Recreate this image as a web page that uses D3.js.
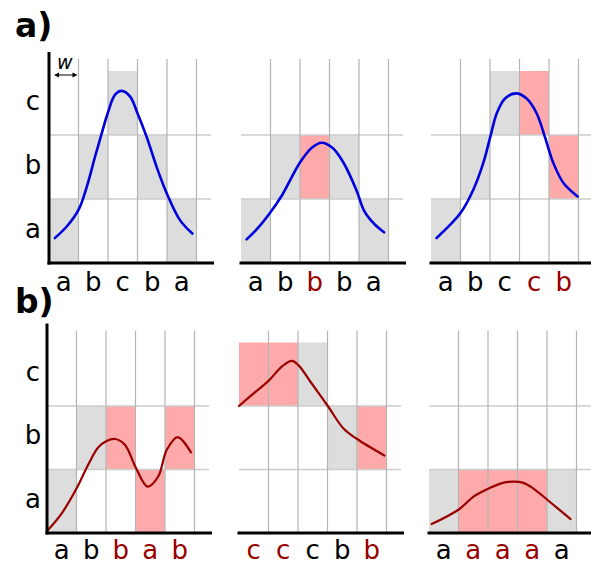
<!DOCTYPE html>
<html>
<head>
<meta charset="utf-8">
<script src="https://cdn.jsdelivr.net/npm/d3@7"></script>
<style>
  body { margin: 0; background: #fff; }
  text { font-family: 'DejaVu Sans', sans-serif; }
</style>
</head>
<body>
<div id="chart-area"></div>
<script>
// canvas size
const W = 591;
const H = 564;

// symbol levels, bottom to top
const levels = ['a', 'b', 'c'];

// symbol sequences per panel
const seqA1 = ['a', 'b', 'c', 'b', 'a'];
const seqA2 = ['a', 'b', 'b', 'b', 'a'];
const seqA3 = ['a', 'b', 'c', 'c', 'b'];
const seqB1 = ['a', 'b', 'b', 'a', 'b'];
const seqB2 = ['c', 'c', 'c', 'b', 'b'];
const seqB3 = ['a', 'a', 'a', 'a', 'a'];

// which windows are highlighted (mismatch) per panel
const hiA1 = [0, 0, 0, 0, 0];
const hiA2 = [0, 0, 1, 0, 0];
const hiA3 = [0, 0, 0, 1, 1];
const hiB1 = [0, 0, 1, 1, 1];
const hiB2 = [1, 1, 0, 0, 1];
const hiB3 = [0, 1, 1, 1, 0];

// curves: [position in windows, value in levels]
const curveA1 = [[0.2, 0.39], [0.6, 0.57], [1.0, 0.83], [1.28, 1.19], [1.56, 1.66], [1.79, 2.03], [1.99, 2.34], [2.24, 2.63], [2.46, 2.69], [2.75, 2.6], [3.0, 2.34], [3.31, 1.97], [3.65, 1.5], [3.99, 1.09], [4.44, 0.67], [4.86, 0.46]];
const curveA2 = [[0.19, 0.37], [0.6, 0.56], [0.98, 0.78], [1.38, 1.05], [2.0, 1.57], [2.4, 1.8], [2.73, 1.88], [3.1, 1.8], [3.47, 1.57], [3.92, 1.13], [4.17, 0.82], [4.5, 0.62], [4.85, 0.48]];
const curveA3 = [[0.19, 0.39], [1.0, 0.78], [1.43, 1.14], [1.77, 1.56], [2.01, 1.97], [2.23, 2.34], [2.51, 2.57], [2.88, 2.65], [3.24, 2.57], [3.58, 2.34], [3.86, 1.97], [4.15, 1.56], [4.49, 1.25], [4.97, 1.04]];
const curveB1 = [[0.0, 0.03], [0.5, 0.31], [1.0, 0.7], [1.4, 1.08], [1.74, 1.35], [2.02, 1.45], [2.31, 1.48], [2.64, 1.39], [3.0, 1.04], [3.41, 0.73], [3.77, 0.89], [4.06, 1.31], [4.43, 1.51], [4.88, 1.27]];
const curveB2 = [[0.0, 2.0], [0.5, 2.2], [1.01, 2.4], [1.45, 2.62], [1.79, 2.71], [2.02, 2.64], [2.41, 2.39], [3.01, 2.0], [3.55, 1.64], [4.0, 1.48], [4.93, 1.22]];
const curveB3 = [[0.09, 0.14], [1.01, 0.37], [1.5, 0.57], [2.02, 0.7], [2.5, 0.79], [2.87, 0.81], [3.2, 0.79], [3.54, 0.7], [4.02, 0.52], [4.8, 0.22]];

// panel layout
const cellW = 29.5;
const rows = [
  { label: 'a)', labelY: 37, bottom: 263, bandH: 64, tickY: 28, x0s: [49, 241, 431], color: '#0000dd', width: 2.6,
    panels: [[seqA1, hiA1, curveA1], [seqA2, hiA2, curveA2], [seqA3, hiA3, curveA3]] },
  { label: 'b)', labelY: 313, bottom: 533, bandH: 63.5, tickY: 26, x0s: [47, 239, 429], color: '#990000', width: 2.2,
    panels: [[seqB1, hiB1, curveB1], [seqB2, hiB2, curveB2], [seqB3, hiB3, curveB3]] },
];

const grey = '#dddddd';
const pink = '#ffaaaa';
const darkRed = '#990000';

const svg = d3
  .select('#chart-area')
  .append('svg')
  .attr('width', W)
  .attr('height', H);

rows.forEach((row) => {
  svg
    .append('text')
    .attr('x', 15)
    .attr('y', row.labelY)
    .attr('font-size', 33)
    .attr('font-weight', 'bold')
    .text(row.label);

  row.panels.forEach(([seq, hi, curve], p) => {
    const x0 = row.x0s[p];
    const g = svg.append('g');

    const xBand = d3.scaleBand().domain(d3.range(seq.length)).range([x0, x0 + seq.length * cellW]);
    const yBand = d3.scaleBand().domain(levels).range([row.bottom, row.bottom - levels.length * row.bandH]);
    const x = d3.scaleLinear().domain([0, seq.length]).range([x0, x0 + seq.length * cellW]);
    const y = d3.scaleLinear().domain([0, levels.length]).range([row.bottom, row.bottom - levels.length * row.bandH]);

    // windows
    g.selectAll('.cell')
      .data(seq)
      .enter()
      .append('rect')
      .attr('x', (d, i) => xBand(i))
      .attr('y', (d) => yBand(d))
      .attr('width', xBand.bandwidth())
      .attr('height', yBand.bandwidth())
      .attr('fill', (d, i) => (hi[i] ? pink : grey));

    // horizontal grid lines
    g.selectAll('.hgrid')
      .data([1, 2])
      .enter()
      .append('line')
      .attr('x1', x0)
      .attr('x2', x0 + 162)
      .attr('y1', (d) => y(d))
      .attr('y2', (d) => y(d))
      .attr('stroke', '#cccccc')
      .attr('stroke-width', 1.3);

    // vertical grid lines
    g.selectAll('.vgrid')
      .data(d3.range(1, seq.length + 1))
      .enter()
      .append('line')
      .attr('x1', (d) => x(d))
      .attr('x2', (d) => x(d))
      .attr('y1', y(levels.length) - 12)
      .attr('y2', row.bottom)
      .attr('stroke', '#b4b4b4')
      .attr('stroke-width', 1.2);

    // curve
    const line = d3
      .line()
      .x((d) => x(d[0]))
      .y((d) => y(d[1]))
      .curve(d3.curveCatmullRom.alpha(0.5));

    g.append('path')
      .attr('d', line(curve))
      .attr('fill', 'none')
      .attr('stroke', row.color)
      .attr('stroke-width', row.width)
      .attr('stroke-linecap', 'round');

    // bottom axis
    const xAxis = g
      .append('g')
      .attr('transform', `translate(0, ${row.bottom})`)
      .call(d3.axisBottom(xBand).tickSize(0).tickPadding(8).tickFormat((i) => seq[i]));
    xAxis.select('.domain').remove();
    xAxis
      .selectAll('text')
      .attr('font-family', "'DejaVu Sans', sans-serif")
      .attr('font-size', 26)
      .attr('dy', 0)
      .attr('y', row.tickY)
      .attr('fill', (i) => (hi[i] ? darkRed : '#000'));

    g.append('line')
      .attr('x1', x0 - 1.5)
      .attr('x2', x0 + 165)
      .attr('y1', row.bottom)
      .attr('y2', row.bottom)
      .attr('stroke', '#000')
      .attr('stroke-width', 3);

    if (p === 0) {
      // left axis with level labels
      const yAxis = g
        .append('g')
        .attr('transform', `translate(${x0}, 0)`)
        .call(d3.axisLeft(yBand).tickSize(0));
      yAxis.select('.domain').remove();
      yAxis
        .selectAll('text')
        .attr('font-family', "'DejaVu Sans', sans-serif")
        .attr('font-size', 26)
        .attr('text-anchor', 'middle')
        .attr('x', 33 - x0)
        .attr('dy', '0.25em')
        .attr('fill', '#000');

      g.append('line')
        .attr('x1', x0)
        .attr('x2', x0)
        .attr('y1', y(levels.length) - 19)
        .attr('y2', row.bottom + 1.5)
        .attr('stroke', '#000')
        .attr('stroke-width', 3);
    }
  });
});

// window width marker on first panel
const wx1 = rows[0].x0s[0] + 5;
const wx2 = rows[0].x0s[0] + cellW - 1;
const wy = 75;
svg.append('line')
  .attr('x1', wx1 + 3)
  .attr('x2', wx2 - 3)
  .attr('y1', wy)
  .attr('y2', wy)
  .attr('stroke', '#000')
  .attr('stroke-width', 1);
svg.append('path')
  .attr('d', `M${wx1},${wy} l5,-2.5 l0,5 Z M${wx2},${wy} l-5,-2.5 l0,5 Z`)
  .attr('fill', '#000');
svg.append('text')
  .attr('x', 57)
  .attr('y', 69)
  .attr('font-size', 19)
  .attr('font-style', 'italic')
  .text('w');
</script>
</body>
</html>
